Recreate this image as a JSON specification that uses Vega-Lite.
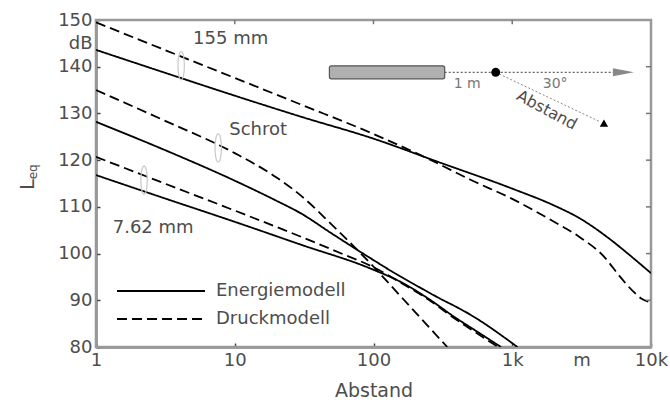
{
  "$schema": "https://vega.github.io/schema/vega-lite/v6.json",
  "width": 555,
  "height": 327,
  "autosize": {"type": "none"},
  "padding": {"left": 96, "top": 20, "right": 19, "bottom": 56},
  "background": "white",
  "config": {
    "view": {"stroke": null},
    "font": "DejaVu Sans",
    "axis": {
      "labelFont": "DejaVu Sans",
      "titleFont": "DejaVu Sans",
      "labelColor": "#4d4d4d",
      "titleColor": "#4d4d4d",
      "labelFontSize": 18,
      "titleFontSize": 19,
      "titleFontWeight": "normal",
      "grid": false,
      "domainColor": "#444444",
      "domainWidth": 2,
      "tickColor": "#444444",
      "tickWidth": 1.5
    },
    "legend": {"labelFont": "DejaVu Sans"}
  },
  "datasets": {
    "curves": [
      {"kaliber": "155 mm", "model": "Energiemodell", "abstand": 1, "leq": 143.6},
      {"kaliber": "155 mm", "model": "Energiemodell", "abstand": 3, "leq": 138.9},
      {"kaliber": "155 mm", "model": "Energiemodell", "abstand": 10, "leq": 133.8},
      {"kaliber": "155 mm", "model": "Energiemodell", "abstand": 30, "leq": 129.3},
      {"kaliber": "155 mm", "model": "Energiemodell", "abstand": 100, "leq": 124.6},
      {"kaliber": "155 mm", "model": "Energiemodell", "abstand": 300, "leq": 119.5},
      {"kaliber": "155 mm", "model": "Energiemodell", "abstand": 1000, "leq": 113.9},
      {"kaliber": "155 mm", "model": "Energiemodell", "abstand": 2000, "leq": 110.3},
      {"kaliber": "155 mm", "model": "Energiemodell", "abstand": 3000, "leq": 107.7},
      {"kaliber": "155 mm", "model": "Energiemodell", "abstand": 5000, "leq": 103.2},
      {"kaliber": "155 mm", "model": "Energiemodell", "abstand": 7000, "leq": 99.7},
      {"kaliber": "155 mm", "model": "Energiemodell", "abstand": 10000, "leq": 95.8},
      {"kaliber": "155 mm", "model": "Druckmodell", "abstand": 1, "leq": 149.5},
      {"kaliber": "155 mm", "model": "Druckmodell", "abstand": 3, "leq": 143.8},
      {"kaliber": "155 mm", "model": "Druckmodell", "abstand": 10, "leq": 137.6},
      {"kaliber": "155 mm", "model": "Druckmodell", "abstand": 30, "leq": 131.9},
      {"kaliber": "155 mm", "model": "Druckmodell", "abstand": 100, "leq": 125.6},
      {"kaliber": "155 mm", "model": "Druckmodell", "abstand": 260, "leq": 120.0},
      {"kaliber": "155 mm", "model": "Druckmodell", "abstand": 500, "leq": 115.8},
      {"kaliber": "155 mm", "model": "Druckmodell", "abstand": 1000, "leq": 111.7},
      {"kaliber": "155 mm", "model": "Druckmodell", "abstand": 2000, "leq": 106.8},
      {"kaliber": "155 mm", "model": "Druckmodell", "abstand": 3000, "leq": 103.7},
      {"kaliber": "155 mm", "model": "Druckmodell", "abstand": 4600, "leq": 99.3},
      {"kaliber": "155 mm", "model": "Druckmodell", "abstand": 6000, "leq": 95.0},
      {"kaliber": "155 mm", "model": "Druckmodell", "abstand": 7500, "leq": 91.8},
      {"kaliber": "155 mm", "model": "Druckmodell", "abstand": 8500, "leq": 90.4},
      {"kaliber": "155 mm", "model": "Druckmodell", "abstand": 10000, "leq": 89.5},
      {"kaliber": "Schrot", "model": "Energiemodell", "abstand": 1, "leq": 128.2},
      {"kaliber": "Schrot", "model": "Energiemodell", "abstand": 3, "leq": 122.4},
      {"kaliber": "Schrot", "model": "Energiemodell", "abstand": 10, "leq": 115.6},
      {"kaliber": "Schrot", "model": "Energiemodell", "abstand": 20, "leq": 111.3},
      {"kaliber": "Schrot", "model": "Energiemodell", "abstand": 30, "leq": 108.6},
      {"kaliber": "Schrot", "model": "Energiemodell", "abstand": 50, "leq": 104.3},
      {"kaliber": "Schrot", "model": "Energiemodell", "abstand": 100, "leq": 98.6},
      {"kaliber": "Schrot", "model": "Energiemodell", "abstand": 150, "leq": 95.4},
      {"kaliber": "Schrot", "model": "Energiemodell", "abstand": 220, "leq": 92.6},
      {"kaliber": "Schrot", "model": "Energiemodell", "abstand": 300, "leq": 90.4},
      {"kaliber": "Schrot", "model": "Energiemodell", "abstand": 400, "leq": 88.5},
      {"kaliber": "Schrot", "model": "Energiemodell", "abstand": 500, "leq": 86.9},
      {"kaliber": "Schrot", "model": "Energiemodell", "abstand": 700, "leq": 84.1},
      {"kaliber": "Schrot", "model": "Energiemodell", "abstand": 900, "leq": 81.8},
      {"kaliber": "Schrot", "model": "Energiemodell", "abstand": 1090, "leq": 80.0},
      {"kaliber": "Schrot", "model": "Druckmodell", "abstand": 1, "leq": 135.0},
      {"kaliber": "Schrot", "model": "Druckmodell", "abstand": 3, "leq": 128.7},
      {"kaliber": "Schrot", "model": "Druckmodell", "abstand": 10, "leq": 121.5},
      {"kaliber": "Schrot", "model": "Druckmodell", "abstand": 20, "leq": 116.3},
      {"kaliber": "Schrot", "model": "Druckmodell", "abstand": 30, "leq": 112.4},
      {"kaliber": "Schrot", "model": "Druckmodell", "abstand": 50, "leq": 106.2},
      {"kaliber": "Schrot", "model": "Druckmodell", "abstand": 100, "leq": 97.2},
      {"kaliber": "Schrot", "model": "Druckmodell", "abstand": 150, "leq": 91.5},
      {"kaliber": "Schrot", "model": "Druckmodell", "abstand": 250, "leq": 84.3},
      {"kaliber": "Schrot", "model": "Druckmodell", "abstand": 340, "leq": 80.0},
      {"kaliber": "7.62 mm", "model": "Energiemodell", "abstand": 1, "leq": 116.8},
      {"kaliber": "7.62 mm", "model": "Energiemodell", "abstand": 3, "leq": 112.0},
      {"kaliber": "7.62 mm", "model": "Energiemodell", "abstand": 10, "leq": 106.8},
      {"kaliber": "7.62 mm", "model": "Energiemodell", "abstand": 30, "leq": 101.9},
      {"kaliber": "7.62 mm", "model": "Energiemodell", "abstand": 95, "leq": 96.8},
      {"kaliber": "7.62 mm", "model": "Energiemodell", "abstand": 165, "leq": 93.6},
      {"kaliber": "7.62 mm", "model": "Energiemodell", "abstand": 250, "leq": 90.3},
      {"kaliber": "7.62 mm", "model": "Energiemodell", "abstand": 380, "leq": 86.5},
      {"kaliber": "7.62 mm", "model": "Energiemodell", "abstand": 600, "leq": 82.7},
      {"kaliber": "7.62 mm", "model": "Energiemodell", "abstand": 830, "leq": 80.0},
      {"kaliber": "7.62 mm", "model": "Druckmodell", "abstand": 1, "leq": 120.7},
      {"kaliber": "7.62 mm", "model": "Druckmodell", "abstand": 3, "leq": 115.2},
      {"kaliber": "7.62 mm", "model": "Druckmodell", "abstand": 10, "leq": 109.2},
      {"kaliber": "7.62 mm", "model": "Druckmodell", "abstand": 30, "leq": 103.6},
      {"kaliber": "7.62 mm", "model": "Druckmodell", "abstand": 60, "leq": 99.9},
      {"kaliber": "7.62 mm", "model": "Druckmodell", "abstand": 95, "leq": 97.4},
      {"kaliber": "7.62 mm", "model": "Druckmodell", "abstand": 165, "leq": 93.4},
      {"kaliber": "7.62 mm", "model": "Druckmodell", "abstand": 250, "leq": 90.1},
      {"kaliber": "7.62 mm", "model": "Druckmodell", "abstand": 380, "leq": 86.2},
      {"kaliber": "7.62 mm", "model": "Druckmodell", "abstand": 600, "leq": 82.3},
      {"kaliber": "7.62 mm", "model": "Druckmodell", "abstand": 790, "leq": 80.0}
    ],
    "labels": [
      {"x": 5.01, "y": 145.9, "text": "155 mm"},
      {"x": 9.12, "y": 126.4, "text": "Schrot"},
      {"x": 1.32, "y": 105.5, "text": "7.62 mm"}
    ],
    "brackets": [
      {"x": 4.11, "y": 140.2},
      {"x": 7.6, "y": 122.6},
      {"x": 2.22, "y": 115.7}
    ],
    "frame": [{"xa": 1, "xb": 10000, "ya": 80, "yb": 150}],
    "barrel": [{"x1": 48.1, "x2": 326, "y1": 137.4, "y2": 140.2}],
    "axisline": [{"x1": 326, "x2": 5600, "y": 138.8}],
    "diag": [{"x1": 760, "y1": 138.8, "x2": 4300, "y2": 128.2}],
    "arrow": [{"x": 6330, "y": 138.8}],
    "dot": [{"x": 760, "y": 138.8}],
    "target": [{"x": 4580, "y": 127.9}],
    "smalltext": [
      {"x": 378, "y": 136.4, "text": "1 m"},
      {"x": 1660, "y": 136.2, "text": "30°"}
    ],
    "rottext": [{"x": 1775, "y": 130.7, "text": "Abstand"}],
    "sub": [{"x": 0.375, "y": 117.5, "text": "eq"}],
    "toptick": [{"t": 10, "ya": 150, "yb": 149.1}, {"t": 100, "ya": 150, "yb": 149.1}, {"t": 1000, "ya": 150, "yb": 149.1}],
    "righttick": [
      {"t": 90, "xa": 10000, "xb": 9200},
      {"t": 100, "xa": 10000, "xb": 9200},
      {"t": 110, "xa": 10000, "xb": 9200},
      {"t": 120, "xa": 10000, "xb": 9200},
      {"t": 130, "xa": 10000, "xb": 9200},
      {"t": 140, "xa": 10000, "xb": 9200}
    ]
  },
  "layer": [
    {
      "data": {"name": "frame"},
      "mark": {"type": "rect", "fill": null, "fillOpacity": 0, "stroke": "#999999", "strokeWidth": 2.5},
      "encoding": {
        "x": {"field": "xa", "type": "quantitative", "scale": {"type": "log", "domain": [1, 10000], "nice": false}},
        "x2": {"field": "xb"},
        "y": {"field": "ya", "type": "quantitative", "scale": {"domain": [80, 150], "nice": false, "zero": false}},
        "y2": {"field": "yb"}
      }
    },
    {
      "data": {"name": "curves"},
      "mark": {"type": "line", "strokeWidth": 1.8, "interpolate": "monotone", "clip": true, "color": "black"},
      "encoding": {
        "x": {
          "field": "abstand", "type": "quantitative",
          "scale": {"type": "log", "domain": [1, 10000], "nice": false},
          "axis": {
            "orient": "bottom",
            "values": [1, 10, 100, 1000, 3162, 10000],
            "labelExpr": "datum.value==1?'1':datum.value==10?'10':datum.value==100?'100':datum.value==1000?'1k':datum.value==3162?'m':'10k'",
            "tickOpacity": {"condition": {"test": "datum.value==3162", "value": 0}, "value": 1},
            "tickSize": -4,
            "labelPadding": 8,
            "labelFlush": false,
            "labelOverlap": false,
            "title": "Abstand",
            "titlePadding": 12
          }
        },
        "y": {
          "field": "leq", "type": "quantitative",
          "scale": {"domain": [80, 150], "nice": false, "zero": false},
          "axis": {
            "orient": "left",
            "values": [80, 90, 100, 110, 120, 130, 140, 145, 150],
            "labelExpr": "datum.value==145?'dB':datum.label",
            "tickOpacity": {"condition": {"test": "datum.value==145", "value": 0}, "value": 1},
            "tickSize": -4,
            "labelPadding": 8,
            "labelFlush": false,
            "labelOverlap": false,
            "title": "L",
            "titleAngle": 270,
            "titleX": -63,
            "titleY": 164,
            "titleAlign": "center",
            "titleBaseline": "alphabetic"
          }
        },
        "strokeDash": {
          "field": "model", "type": "nominal",
          "scale": {"domain": ["Energiemodell", "Druckmodell"], "range": [[1, 0], [10, 5]]},
          "legend": {
            "title": null,
            "orient": "none",
            "legendX": 20,
            "legendY": 262,
            "symbolType": "stroke",
            "symbolSize": 7744,
            "symbolStrokeWidth": 2,
            "symbolStrokeColor": "black",
            "labelFontSize": 18,
            "labelColor": "#4d4d4d",
            "labelOffset": 10,
            "clipHeight": 18,
            "rowPadding": 10
          }
        },
        "detail": {"field": "kaliber"}
      }
    },
    {
      "data": {"name": "toptick"},
      "mark": {"type": "rule", "stroke": "#777777", "strokeWidth": 1.5},
      "encoding": {
        "x": {"field": "t", "type": "quantitative"},
        "y": {"field": "ya", "type": "quantitative"},
        "y2": {"field": "yb"}
      }
    },
    {
      "data": {"name": "righttick"},
      "mark": {"type": "rule", "stroke": "#777777", "strokeWidth": 1.5},
      "encoding": {
        "y": {"field": "t", "type": "quantitative"},
        "x": {"field": "xa", "type": "quantitative"},
        "x2": {"field": "xb"}
      }
    },
    {
      "data": {"name": "labels"},
      "mark": {"type": "text", "align": "left", "baseline": "middle", "fontSize": 18, "color": "#4d4d4d"},
      "encoding": {
        "x": {"field": "x", "type": "quantitative"},
        "y": {"field": "y", "type": "quantitative"},
        "text": {"field": "text"}
      }
    },
    {
      "data": {"name": "brackets"},
      "mark": {"type": "point", "shape": "M0,-1C0.3,-1 0.3,1 0,1C-0.3,1 -0.3,-1 0,-1Z", "size": 800, "filled": false, "stroke": "#c8c8c8", "strokeWidth": 1.2, "opacity": 1},
      "encoding": {
        "x": {"field": "x", "type": "quantitative"},
        "y": {"field": "y", "type": "quantitative"}
      }
    },
    {
      "data": {"name": "axisline"},
      "mark": {"type": "rule", "stroke": "#666666", "strokeWidth": 1.2, "strokeDash": [2, 2]},
      "encoding": {
        "x": {"field": "x1", "type": "quantitative"},
        "x2": {"field": "x2"},
        "y": {"field": "y", "type": "quantitative"}
      }
    },
    {
      "data": {"name": "diag"},
      "mark": {"type": "rule", "stroke": "#888888", "strokeWidth": 1, "strokeDash": [2, 2]},
      "encoding": {
        "x": {"field": "x1", "type": "quantitative"},
        "x2": {"field": "x2"},
        "y": {"field": "y1", "type": "quantitative"},
        "y2": {"field": "y2"}
      }
    },
    {
      "data": {"name": "barrel"},
      "mark": {"type": "rect", "fill": "#b0b0b0", "stroke": "#555555", "strokeWidth": 1.2, "cornerRadius": 2},
      "encoding": {
        "x": {"field": "x1", "type": "quantitative"},
        "x2": {"field": "x2"},
        "y": {"field": "y1", "type": "quantitative"},
        "y2": {"field": "y2"}
      }
    },
    {
      "data": {"name": "arrow"},
      "mark": {"type": "point", "shape": "M-1,-0.38L1,0L-1,0.38Z", "size": 441, "filled": true, "color": "#888888", "opacity": 1},
      "encoding": {
        "x": {"field": "x", "type": "quantitative"},
        "y": {"field": "y", "type": "quantitative"}
      }
    },
    {
      "data": {"name": "dot"},
      "mark": {"type": "point", "shape": "circle", "size": 80, "filled": true, "color": "black", "opacity": 1},
      "encoding": {
        "x": {"field": "x", "type": "quantitative"},
        "y": {"field": "y", "type": "quantitative"}
      }
    },
    {
      "data": {"name": "target"},
      "mark": {"type": "point", "shape": "triangle-up", "size": 70, "filled": true, "color": "black", "opacity": 1},
      "encoding": {
        "x": {"field": "x", "type": "quantitative"},
        "y": {"field": "y", "type": "quantitative"}
      }
    },
    {
      "data": {"name": "smalltext"},
      "mark": {"type": "text", "align": "left", "baseline": "middle", "fontSize": 14, "color": "#777777"},
      "encoding": {
        "x": {"field": "x", "type": "quantitative"},
        "y": {"field": "y", "type": "quantitative"},
        "text": {"field": "text"}
      }
    },
    {
      "data": {"name": "rottext"},
      "mark": {"type": "text", "align": "center", "baseline": "middle", "fontSize": 16, "angle": 28, "color": "#4d4d4d"},
      "encoding": {
        "x": {"field": "x", "type": "quantitative"},
        "y": {"field": "y", "type": "quantitative"},
        "text": {"field": "text"}
      }
    },
    {
      "data": {"name": "sub"},
      "mark": {"type": "text", "align": "center", "baseline": "alphabetic", "fontSize": 12, "angle": 270, "color": "#4d4d4d"},
      "encoding": {
        "x": {"field": "x", "type": "quantitative"},
        "y": {"field": "y", "type": "quantitative"},
        "text": {"field": "text"}
      }
    }
  ]
}
